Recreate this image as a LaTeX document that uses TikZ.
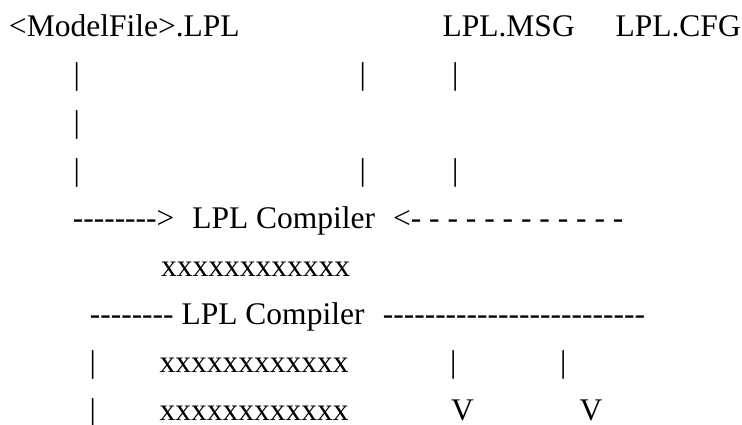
\documentclass[tikz,border=0pt]{standalone}
\usepackage{fontspec}
\setmainfont{Liberation Serif}[Ligatures=TeXOff]
\begin{document}
\begin{tikzpicture}[x=1pt,y=-1pt,
  txt/.style={anchor=base west,inner sep=0pt,outer sep=0pt,
    font=\fontsize{31.5}{36}\selectfont},
  bar/.style={txt,anchor=base}]
% canvas
\path[fill=white,use as bounding box] (0,0) rectangle (742,425);
% row baselines
\def\ra{37}\def\rb{84.9}\def\rc{132.8}\def\rd{180.7}\def\re{228.6}
\def\rf{276.5}\def\rg{324.4}\def\rh{372.3}\def\ri{420.2}
% input files
\node[txt] (model) at (9,\ra) {<ModelFile>.LPL};
\node[txt] (msg) at (442.6,\ra) {LPL.MSG};
\node[txt] (cfg) at (615.6,\ra) {LPL.CFG};
% vertical strokes under the inputs
\node[bar] (m1) at (76.7,\rb) {|};
\node[bar] (m2) at (76.7,\rc) {|};
\node[bar] (m3) at (76.7,\rd) {|};
\node[bar] (c1) at (362.7,\rb) {|};
\node[bar] (c2) at (362.7,\rd) {|};
\node[bar] (s1) at (455.3,\rb) {|};
\node[bar] (s2) at (455.3,\rd) {|};
% compiler line
\node[txt] (arrl) at (72.8,\re) {-------->};
\node[txt] (comp1) at (192.3,\re) {LPL Compiler};
\node[txt] (arrr) at (393.1,\re) {<- - - - - - - - - - - -};
\node[txt] (x1) at (161.2,\rf) {xxxxxxxxxxxx};
% output line
\node[txt] (dl) at (89.8,\rg) {--------};
\node[txt] (comp2) at (181.6,\rg) {LPL Compiler};
\node[txt] (dr) at (382.8,\rg) {-------------------------};
\node[bar] (o1) at (92.7,\rh) {|};
\node[txt] (x2) at (159.5,\rh) {xxxxxxxxxxxx};
\node[bar] (o2) at (453.3,\rh) {|};
\node[bar] (o3) at (563.3,\rh) {|};
\node[bar] (o4) at (92.7,\ri) {|};
\node[txt] (x3) at (159.5,\ri) {xxxxxxxxxxxx};
\node[txt] (v1) at (451.2,\ri) {V};
\node[txt] (v2) at (579.5,\ri) {V};
\end{tikzpicture}
\end{document}
